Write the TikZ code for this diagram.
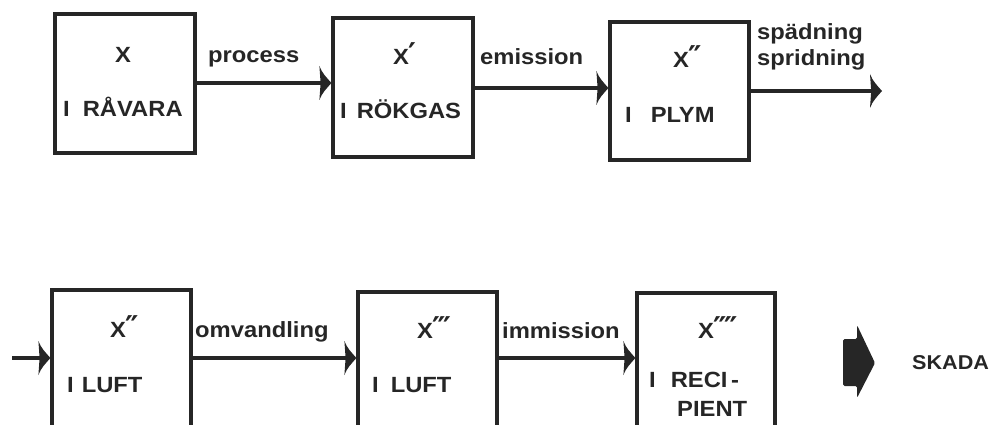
\documentclass[tikz,border=0pt]{standalone}
\usepackage{fontspec}
\setmainfont{Liberation Sans}[FakeStretch=1.08]
\newfontfamily\djv{DejaVu Sans}
\usetikzlibrary{arrows.meta}
\makeatletter
\pgfdeclarearrow{
  name=Barb,
  defaults={length=12pt,width=34pt},
  setup code={
    \pgfarrowssettipend{0pt}
    \pgfarrowssetlineend{-0.5\pgfarrowlength}
    \pgfarrowssetvisualbackend{-\pgfarrowlength}
    \pgfarrowssavethe\pgfarrowlength
    \pgfarrowssavethe\pgfarrowwidth
  },
  parameters={\the\pgfarrowlength,\the\pgfarrowwidth},
  drawing code={
    \pgfpathmoveto{\pgfqpoint{0pt}{0pt}}
    \pgfpathcurveto{\pgfqpoint{-0.4\pgfarrowlength}{0.16\pgfarrowwidth}}{\pgfqpoint{-0.8\pgfarrowlength}{0.3\pgfarrowwidth}}{\pgfqpoint{-\pgfarrowlength}{0.5\pgfarrowwidth}}
    \pgfpathlineto{\pgfqpoint{-0.9\pgfarrowlength}{0pt}}
    \pgfpathlineto{\pgfqpoint{-\pgfarrowlength}{-0.5\pgfarrowwidth}}
    \pgfpathcurveto{\pgfqpoint{-0.8\pgfarrowlength}{-0.3\pgfarrowwidth}}{\pgfqpoint{-0.4\pgfarrowlength}{-0.16\pgfarrowwidth}}{\pgfqpoint{0pt}{0pt}}
    \pgfpathclose
    \pgfusepathqfill
  }
}
\makeatother
\definecolor{ink}{gray}{0.15}
\newcommand{\pr}[1]{{\djv\fontsize{30}{30}\selectfont\kern-1pt#1}}
\begin{document}
\begin{tikzpicture}[x=1pt,y=-1pt,
  box/.style={draw=ink,line width=3.2pt,minimum width=140pt,inner sep=0pt},
  txt/.style={anchor=base west,inner sep=0pt,text=ink,font=\fontsize{22}{26}\selectfont\bfseries},
  conn/.style={draw=ink,line width=3.2pt,-{Barb[length=12pt,width=34pt]}}]
\useasboundingbox (0,0) rectangle (999,425);
\clip (0,0) rectangle (999,425);
% top row boxes
\node[box,minimum height=139pt] (b1) at (125,83.5) {};
\node[box,minimum height=139pt] (b2) at (403,87.5) {};
\node[box,minimum width=139pt,minimum height=138pt] (b3) at (679.5,91) {};
% bottom row boxes
\node[box,minimum width=139pt,minimum height=180pt] (b4) at (121.5,380) {};
\node[box,minimum width=139pt,minimum height=180pt] (b5) at (427.5,382) {};
\node[box,minimum width=138pt,minimum height=180pt] (b6) at (706,383) {};
\coordinate (rowB) at (0,358);
\coordinate (inS) at (12,358);
\coordinate (outE) at (882,91);
% connectors
\draw[conn] (b1.east |- 0,83) -- (b2.west |- 0,83);
\draw[conn] (b2.east |- 0,88) -- (b3.west |- 0,88);
\draw[conn] (b3.east) -- (outE);
\draw[conn] (inS) -- (b4.west |- rowB);
\draw[conn] (b4.east |- rowB) -- (b5.west |- rowB);
\draw[conn] (b5.east |- rowB) -- (b6.west |- rowB);
% box texts
\node[txt] (x1) at (115,63) {X};
\node[txt] (r1) at (63,117) {I\hspace{13pt}RÅVARA};
\node[txt] (x2) at (393,65) {X\pr{′}};
\node[txt] (r2) at (340,119) {I\hspace{10pt}RÖKGAS};
\node[txt] (x3) at (673,68) {X\pr{″}};
\node[txt] (r3) at (625,123) {I\hspace{19pt}PLYM};
\node[txt] (x4) at (110,337) {X\pr{″}};
\node[txt] (r4) at (67,392) {I\hspace{8pt}LUFT};
\node[txt] (x5) at (417,338) {X\pr{‴}};
\node[txt] (r5) at (372,392) {I\hspace{12pt}LUFT};
\node[txt] (x6) at (698,338) {X\pr{⁗}};
\node[txt] (r6) at (649,387) {I\hspace{15pt}RECI\,-};
\node[txt] (r6b) at (677,416) {PIENT};
% connector labels
\node[txt] (l1) at (208,63) {process};
\node[txt] (l2) at (480,65) {emission};
\node[txt] (l3a) at (757,40) {spädning};
\node[txt] (l3b) at (757,66) {spridning};
\node[txt] (l4) at (195,337) {omvandling};
\node[txt] (l5) at (502,338) {immission};
% block arrow and SKADA
\fill[ink,rounded corners=1.5pt] (843,339) -- (857,339) -- (857,325) -- (875,363) -- (857,398) -- (857,386) -- (843,386) -- cycle;
\node[txt,font=\fontsize{20}{24}\selectfont\bfseries] (sk) at (912,369) {SKADA};
\end{tikzpicture}
\end{document}
